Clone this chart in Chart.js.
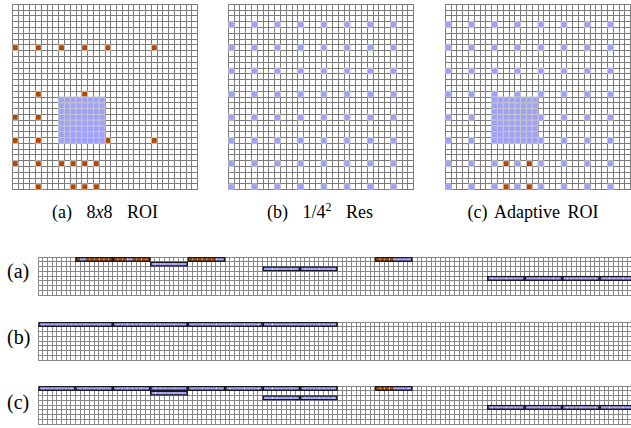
<!DOCTYPE html>
<html>
<head>
<meta charset="utf-8">
<script src="https://cdn.jsdelivr.net/npm/chart.js@4.4.1/dist/chart.umd.min.js"></script>
<style>
html, body { margin:0; padding:0; background:#fff; width:631px; height:428px; overflow:hidden; }
body { position:relative; font-family:'Liberation Serif'; color:#000; }
canvas { position:absolute; }
.cap { position:absolute; font-family:'Liberation Serif'; font-size:18px; line-height:20px; white-space:nowrap; transform:translateX(-50%); }
.lab { position:absolute; font-family:'Liberation Serif'; font-size:20px; line-height:22px; }
</style>
</head>
<body>

<canvas id="grid-a" width="196" height="196" style="left:7px;top:-1px"></canvas>
<canvas id="grid-b" width="196" height="196" style="left:223px;top:-1px"></canvas>
<canvas id="grid-c" width="196" height="196" style="left:440px;top:-1px"></canvas>

<div class="cap" style="left:105px;top:202px;word-spacing:10px">(a) 8<i>x</i>8 ROI</div>
<div class="cap" style="left:320px;top:202px;word-spacing:10px">(b) 1/4<sup style="font-size:12px;line-height:0">2</sup> Res</div>
<div class="cap" style="left:533px;top:202px;word-spacing:3px">(c) Adaptive ROI</div>

<div class="lab" style="left:7px;top:260px">(a)</div>
<div class="lab" style="left:7px;top:326px">(b)</div>
<div class="lab" style="left:7px;top:391px">(c)</div>

<canvas id="strip-a" width="601" height="40" style="left:37px;top:256px"></canvas>
<canvas id="strip-b" width="601" height="40" style="left:37px;top:321px"></canvas>
<canvas id="strip-c" width="601" height="40" style="left:37px;top:385px"></canvas>

<script>
// ---- colours
var ORANGE = '#b54800';
var BLUE = '#9f9fff';

// ---- 32x32 frame
var GRID_N = 32;

// region of interest (rows / cols of the blue block)
var roiRows = [16, 17, 18, 19, 20, 21, 22, 23];
var roiCols = [8, 9, 10, 11, 12, 13, 14, 15];

// 1/4^2 sampling positions
var sampleRows = [3, 7, 11, 15, 19, 23, 27, 31];
var sampleCols = [0, 4, 8, 12, 16, 20, 24, 28];

// orange cells [row, col]
var roiHits = [
  [7, 0], [7, 4], [7, 8], [7, 12], [7, 16], [7, 24],
  [15, 4], [15, 12],
  [19, 0], [19, 4],
  [23, 0], [23, 4], [23, 16], [23, 24],
  [27, 0], [27, 4], [27, 8], [27, 10], [27, 12], [27, 14],
  [31, 4], [31, 10], [31, 12], [31, 14]
];
var adaptiveHits = [[27, 10], [27, 14], [31, 10], [31, 14]];

// ---- memory strips: 8 rows x 128 cells
var STRIP_COLS = 128;
var stripRowLabels = ['0', '1', '2', '3', '4', '5', '6', '7'];

// (a) 8-cell lines
var stripARows   = [0, 0, 1, 0, 2, 2, 0, 4, 4, 4, 4];
var stripAStarts = [8, 16, 24, 32, 48, 56, 72, 96, 104, 112, 120];
var stripAFills  = ['OBOOOOOO', 'OOOBOOOO', 'BBBBBBBB', 'OOOOOOBB', 'BBBBBBBB', 'BBBBBBBB',
                    'OOOOBBBB', 'BBBBBBBB', 'BBBBBBBB', 'BBBBBBBB', 'BBBBBBBB'];

// (b) 16-cell lines
var stripBRows   = [0, 0, 0, 0];
var stripBStarts = [0, 16, 32, 48];
var stripBFills  = ['BBBBBBBBBBBBBBBB', 'BBBBBBBBBBBBBBBB', 'BBBBBBBBBBBBBBBB', 'BBBBBBBBBBBBBBBB'];

// (c) 8-cell lines
var stripCRows   = [0, 0, 0, 0, 0, 0, 0, 0, 1, 2, 2, 0, 4, 4, 4, 4];
var stripCStarts = [0, 8, 16, 24, 32, 40, 48, 56, 24, 48, 56, 72, 96, 104, 112, 120];
var stripCFills  = ['BBBBBBBB', 'BBBBBBBB', 'BBBBBBBB', 'BBBBBBBB', 'BBBBBBBB', 'BBBBBBBB',
                    'BBBBBBBB', 'BBBBBBBB', 'BBBBBBBB', 'BBBBBBBB', 'BBBBBBBB', 'OOOOBBBB',
                    'BBBBBBBB', 'BBBBBBBB', 'BBBBBBBB', 'BBBBBBBB'];

// ------------------------------------------------------------

function everyUnit(n) {
  return function(scale) {
    var t = [];
    for (var i = 0; i <= n; i++) t.push({ value: i });
    scale.ticks = t;
  };
}

function toPoints(list) {
  return list.map(function(rc) { return { x: rc[1] + 0.5, y: rc[0] + 0.5 }; });
}

function cross(rows, cols) {
  var out = [];
  rows.forEach(function(r) { cols.forEach(function(c) { out.push([r, c]); }); });
  return out;
}

function cellRadius(ctx) {
  var a = ctx.chart.chartArea;
  var w = a ? (a.right - a.left) / GRID_N : 6.06;
  return w / Math.SQRT2;
}

function makeGrid(id, groups) {
  var datasets = groups.map(function(g) {
    return {
      data: toPoints(g.cells),
      backgroundColor: g.color,
      borderColor: '#c6c6c6',
      borderWidth: 1,
      pointStyle: 'rect',
      pointRadius: cellRadius
    };
  });
  var axis = function(rev) {
    return {
      type: 'linear', min: 0, max: GRID_N, reverse: rev,
      afterBuildTicks: everyUnit(GRID_N),
      grid: { color: '#7c7c7c', lineWidth: 1, drawTicks: false },
      border: { color: '#7c7c7c' },
      ticks: { display: false }
    };
  };
  new Chart(document.getElementById(id), {
    type: 'scatter',
    data: { datasets: datasets },
    options: {
      responsive: false, animation: false, events: [],
      layout: { padding: 1 },
      plugins: { legend: { display: false }, tooltip: { enabled: false } },
      scales: { x: axis(false), y: axis(true) }
    }
  });
}

function makeStrip(id, rows, starts, fills) {
  var outline = [], cells = [], colors = [];
  rows.forEach(function(r, k) {
    var len = fills[k].length;
    outline.push({ x: [starts[k], starts[k] + len], y: stripRowLabels[r] });
    for (var i = 0; i < len; i++) {
      cells.push({ x: [starts[k] + i, starts[k] + i + 1], y: stripRowLabels[r] });
      colors.push(fills[k][i] === 'O' ? ORANGE : BLUE);
    }
  });
  new Chart(document.getElementById(id), {
    type: 'bar',
    data: {
      labels: stripRowLabels,
      datasets: [
        { data: outline, backgroundColor: 'rgba(0,0,0,0)', borderColor: '#1a1a1a', borderWidth: 1, borderSkipped: false },
        { data: cells, backgroundColor: colors, borderColor: 'rgba(255,255,255,0.35)', borderWidth: { left: 1, right: 0, top: 0, bottom: 0 }, borderSkipped: false }
      ]
    },
    options: {
      indexAxis: 'y',
      responsive: false, animation: false, events: [],
      layout: { padding: 1 },
      datasets: { bar: { grouped: false, barPercentage: 1, categoryPercentage: 1 } },
      plugins: { legend: { display: false }, tooltip: { enabled: false } },
      scales: {
        x: {
          type: 'linear', min: 0, max: STRIP_COLS,
          afterBuildTicks: everyUnit(STRIP_COLS),
          grid: { color: '#888', lineWidth: 1, drawTicks: false },
          border: { color: '#888' },
          ticks: { display: false }
        },
        y: {
          type: 'category',
          grid: { color: '#888', lineWidth: 1, drawTicks: false, offset: true },
          border: { color: '#888' },
          ticks: { display: false }
        }
      }
    }
  });
}

var samples = cross(sampleRows, sampleCols);
var roiBlock = cross(roiRows, roiCols);

makeGrid('grid-a', [
  { cells: roiBlock, color: BLUE },
  { cells: roiHits, color: ORANGE }
]);
makeGrid('grid-b', [
  { cells: samples, color: BLUE }
]);
makeGrid('grid-c', [
  { cells: roiBlock, color: BLUE },
  { cells: samples, color: BLUE },
  { cells: adaptiveHits, color: ORANGE }
]);

makeStrip('strip-a', stripARows, stripAStarts, stripAFills);
makeStrip('strip-b', stripBRows, stripBStarts, stripBFills);
makeStrip('strip-c', stripCRows, stripCStarts, stripCFills);
</script>
</body>
</html>
